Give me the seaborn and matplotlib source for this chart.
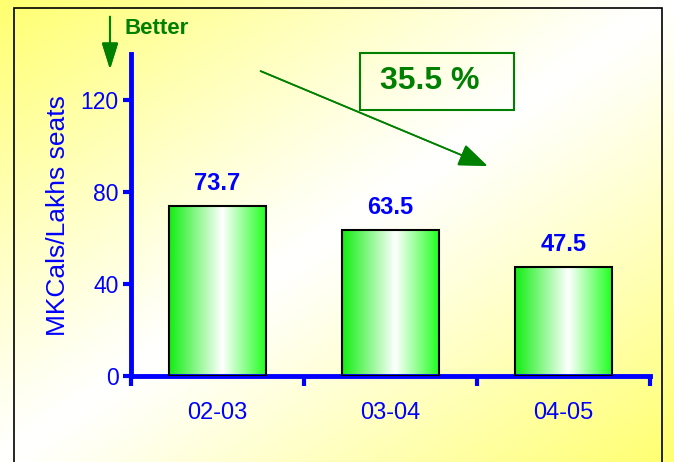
import numpy as np
import matplotlib
matplotlib.use('Agg')
import matplotlib.pyplot as plt
import seaborn as sns
from matplotlib.colors import LinearSegmentedColormap
from matplotlib.patches import Rectangle

# data
years = ['02-03', '03-04', '04-05']
consumption = [73.7, 63.5, 47.5]
y_ticks = [0, 40, 80, 120]
reduction = '35.5 %'

sns.set_style('white')
plt.rcParams['font.family'] = ['Liberation Sans', 'DejaVu Sans']

blue = '#0000ff'
green = '#008000'
W, H = 674, 462

fig = plt.figure(figsize=(W / 100, H / 100), dpi=100)

# yellow/white diagonal background
bg = fig.add_axes([0, 0, 1, 1], zorder=0)
gx, gy = np.meshgrid(np.linspace(0, 1, 400), np.linspace(0, 1, 400))
v = np.abs(gx + gy - 1) ** 1.1
bg_cmap = LinearSegmentedColormap.from_list('bg', ['#ffffff', '#ffff70'])
bg.imshow(v, cmap=bg_cmap, aspect='auto', extent=[0, 1, 0, 1], origin='upper')
bg.add_patch(Rectangle((14 / W, -0.05), (662 - 14) / W, (H - 8) / H + 0.05,
                       fill=False, ec='black', lw=1.2))
bg.set_xlim(0, 1)
bg.set_ylim(0, 1)
bg.axis('off')

# main chart
ax = fig.add_axes([131 / W, 86 / H, (650 - 131) / W, (376 - 54) / H], zorder=1)
ax.patch.set_alpha(0)
sns.barplot(x=years, y=consumption, ax=ax, width=0.56, color='#33ff33',
            edgecolor='black', linewidth=1.5, zorder=3)

bar_cmap = LinearSegmentedColormap.from_list(
    'bar', [(0, '#11ee11'), (0.55, '#ffffff'), (1, '#22ff22')])
grad = np.linspace(0, 1, 256)[None, :]
for p in ax.patches:
    x0, w, h = p.get_x(), p.get_width(), p.get_height()
    ax.imshow(grad, cmap=bar_cmap, extent=[x0, x0 + w, 0, h], aspect='auto', zorder=2)
    p.set_facecolor('none')

ax.bar_label(ax.containers[0], fmt='%.1f', padding=8, fontsize=17,
             fontweight='bold', color=blue)

ax.set_xlim(-0.5, 2.5)
ax.set_ylim(0, 140)
ax.set_yticks(y_ticks)
ax.set_xticks([-0.5, 0.5, 1.5, 2.5], minor=True)
for s in ['top', 'right']:
    ax.spines[s].set_visible(False)
for s in ['left', 'bottom']:
    ax.spines[s].set_color(blue)
    ax.spines[s].set_linewidth(3.5)
ax.tick_params(axis='y', which='major', direction='out', length=6, width=3,
               color=blue, labelcolor=blue, labelsize=16.5, pad=3, left=True)
ax.tick_params(axis='x', which='major', length=0, labelcolor=blue, labelsize=17, pad=19)
ax.tick_params(axis='x', which='minor', direction='out', length=7, width=3,
               color=blue, bottom=True)
ax.set_xlabel('')
ax.set_ylabel('MKCals/Lakhs seats', color=blue, fontsize=19)
ax.yaxis.set_label_coords(-0.117, 0.497)

# annotations
fig.text(125 / W, 1 - 28 / H, 'Better', ha='left', va='center', color=green,
         fontsize=16, fontweight='bold')
fig.add_artist(plt.annotate('', xy=(110 / W, 1 - 72 / H), xytext=(110 / W, 1 - 14 / H),
                            xycoords='figure fraction', textcoords='figure fraction',
                            arrowprops=dict(arrowstyle='-|>,head_length=0.8,head_width=0.25',
                                            mutation_scale=20, color=green, lw=1.5)))
fig.add_artist(plt.annotate('', xy=(490 / W, 1 - 167 / H), xytext=(258 / W, 1 - 70 / H),
                            xycoords='figure fraction', textcoords='figure fraction',
                            arrowprops=dict(arrowstyle='-|>,head_length=0.9,head_width=0.35',
                                            mutation_scale=20, color=green, lw=1.2)))
fig.add_artist(Rectangle((360 / W, 1 - 110 / H), 154 / W, 57 / H, transform=fig.transFigure,
                         fill=False, ec=green, lw=1.5))
fig.text(430 / W, 1 - 81 / H, reduction, ha='center', va='center', color=green,
         fontsize=23, fontweight='bold')

fig.savefig('out.png', dpi=100)
